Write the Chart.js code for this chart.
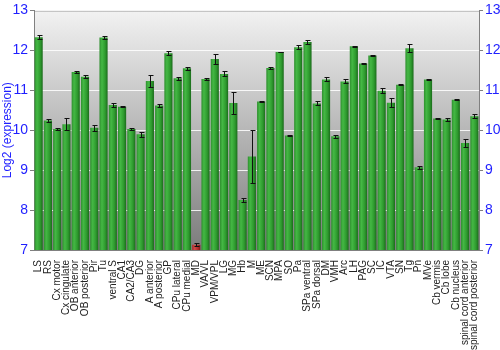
<!DOCTYPE html>
<html><head><meta charset="utf-8">
<script src="https://cdn.jsdelivr.net/npm/chart.js@4"></script>
<style>html,body{margin:0;padding:0;background:#fff}#wrap{width:500px;height:350px;position:relative}</style>
</head><body><div id="wrap"><canvas id="c" width="500" height="350"></canvas></div>
<script>
const categories = ["LS","RS","Cx motor","Cx cingulate","OB anterior","OB posterior","Pir","Tu","ventral S","CA1","CA2/CA3","DG","A anterior","A posterior","GP","CPu lateral","CPu medial","MD","VA/VL","VPM/VPL","LG","MG","Hb","M","ME","SCN","MPA","SO","Pa","SPa ventral","SPa dorsal","DM","VMH","Arc","LH","PAG","SC","IC","VTA","SN","Tg","Pn","MVe","Cb vermis","Cb lobe","Cb nucleus","spinal cord anterior","spinal cord posterior"];
const values = [12.33,10.24,10.03,10.15,11.46,11.34,10.06,12.32,10.63,10.59,10.03,9.9,11.23,10.62,11.93,11.30,11.55,7.13,11.28,11.78,11.41,10.68,8.25,9.34,10.72,11.56,11.96,9.87,12.08,12.21,10.67,11.27,9.85,11.22,12.10,11.67,11.87,10.99,10.69,11.14,12.05,9.07,11.27,10.29,10.27,10.76,9.68,10.35];
const errors = [0.05,0.04,0.03,0.15,0.03,0.03,0.08,0.03,0.04,0.02,0.03,0.06,0.14,0.04,0.05,0.04,0.04,0.04,0.02,0.12,0.06,0.28,0.04,0.66,0.01,0.02,0.01,0.01,0.05,0.04,0.05,0.05,0.04,0.05,0.01,0.01,0.01,0.06,0.11,0.01,0.1,0.04,0.02,0.02,0.03,0.01,0.09,0.05];
const highlighted = ["MD"];
const yMin = 7, yMax = 13, yStep = 1;
const yTitle = "Log2 (expression)";

const bgPlugin = {
  id: 'bg',
  beforeDraw(chart) {
    const {ctx, chartArea: a} = chart;
    const g = ctx.createLinearGradient(0, a.top, 0, a.bottom);
    g.addColorStop(0, '#f2f2f2');
    g.addColorStop(1, '#7c7c7c');
    ctx.save();
    ctx.fillStyle = g;
    ctx.fillRect(a.left, a.top, a.right - a.left, a.bottom - a.top);
    ctx.strokeStyle = '#808080';
    ctx.lineWidth = 1;
    ctx.beginPath();
    ctx.moveTo(a.left, a.top + 0.5);
    ctx.lineTo(a.right, a.top + 0.5);
    ctx.stroke();
    ctx.restore();
  }
};

const errPlugin = {
  id: 'err',
  afterDatasetsDraw(chart) {
    const {ctx} = chart;
    const y = chart.scales.y;
    const meta = chart.getDatasetMeta(0);
    ctx.save();
    ctx.strokeStyle = '#111';
    ctx.lineWidth = 1;
    meta.data.forEach((bar, i) => {
      const x = Math.round(bar.x) + 0.5;
      const t = Math.round(y.getPixelForValue(values[i] + errors[i])) + 0.5;
      const b = Math.round(y.getPixelForValue(values[i] - errors[i])) + 0.5;
      ctx.beginPath();
      ctx.moveTo(x, t); ctx.lineTo(x, b);
      ctx.moveTo(x - 2, t); ctx.lineTo(x + 3, t);
      ctx.moveTo(x - 2, b); ctx.lineTo(x + 3, b);
      ctx.stroke();
    });
    ctx.restore();
  }
};

function barFill(c) {
  if (c.type !== 'data') return '#33a033';
  const chart = c.chart;
  const xs = chart.scales.x;
  if (!xs || !chart.chartArea) return '#33a033';
  const cx = xs.getPixelForValue(c.dataIndex);
  const w = (xs.width / categories.length) * 0.88;
  const g = chart.ctx.createLinearGradient(cx - w / 2, 0, cx + w / 2, 0);
  if (highlighted.includes(categories[c.dataIndex])) {
    g.addColorStop(0, '#a82828');
    g.addColorStop(0.3, '#d04848');
    g.addColorStop(0.7, '#b02a2a');
    g.addColorStop(1, '#7a1414');
  } else {
    g.addColorStop(0, '#2f8f2f');
    g.addColorStop(0.3, '#44b844');
    g.addColorStop(0.7, '#2e9a2e');
    g.addColorStop(1, '#1b6b1b');
  }
  return g;
}

new Chart(document.getElementById('c'), {
  type: 'bar',
  data: {
    labels: categories,
    datasets: [{ data: values, backgroundColor: barFill, borderWidth: 0, categoryPercentage: 1, barPercentage: 0.88 }]
  },
  options: {
    responsive: false,
    animation: false,
    layout: { padding: { top: 9, left: 0, right: 0, bottom: 0 } },
    plugins: { legend: { display: false }, tooltip: { enabled: false } },
    scales: {
      x: {
        grid: { display: false },
        border: { display: true, color: '#808080' },
        ticks: { autoSkip: false, maxRotation: 90, minRotation: 90, color: '#222', padding: 2,
                 font: { family: 'Liberation Sans, Arial, sans-serif', size: 10 } },
        afterFit(s) { s.height = 100; }
      },
      y: {
        position: 'left', min: yMin, max: yMax,
        ticks: { stepSize: yStep, color: '#1f1fff', padding: 2, font: { family: 'Liberation Sans, Arial, sans-serif', size: 14 } },
        grid: { color: 'rgba(255,255,255,0.85)', tickColor: '#808080', tickLength: 4, lineWidth: 1 },
        border: { color: '#808080' },
        title: { display: true, text: yTitle, color: '#1f1fff', padding: 0, font: { family: 'Liberation Sans, Arial, sans-serif', size: 12 } },
        afterFit(s) { s.width = 34; }
      },
      y2: {
        position: 'right', min: yMin, max: yMax,
        ticks: { stepSize: yStep, color: '#1f1fff', padding: 2, font: { family: 'Liberation Sans, Arial, sans-serif', size: 14 } },
        grid: { drawOnChartArea: false, tickColor: '#808080', tickLength: 4 },
        border: { color: '#808080' },
        afterFit(s) { s.width = 21; }
      }
    }
  },
  plugins: [bgPlugin, errPlugin]
});
</script></body></html>
